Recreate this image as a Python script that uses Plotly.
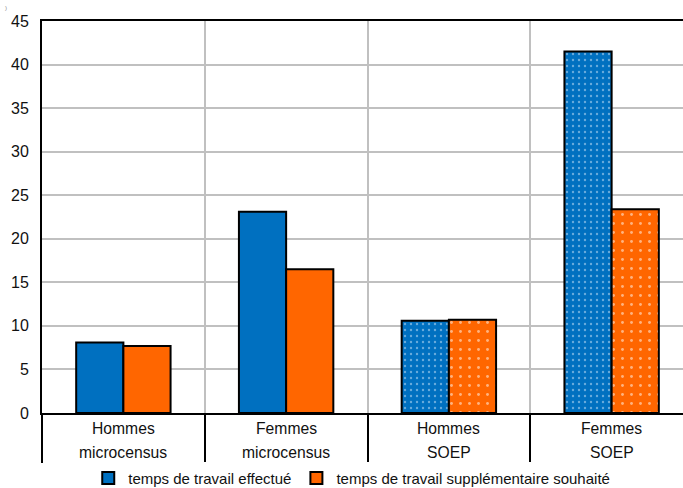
import plotly.graph_objects as go

# Categories (two text lines each) and series values (hours)
cat_line1 = ["Hommes", "Femmes", "Hommes", "Femmes"]
cat_line2 = ["microcensus", "microcensus", "SOEP", "SOEP"]
effectue = [8.1, 23.1, 10.6, 41.5]
souhaite = [7.7, 16.5, 10.7, 23.4]
series_names = ["temps de travail effectué", "temps de travail supplémentaire souhaité"]
y_ticks = [0, 5, 10, 15, 20, 25, 30, 35, 40, 45]

BLUE = "#0070C0"
ORANGE = "#FF6600"
FONT = "Liberation Sans, Arial, sans-serif"

x = list(range(len(cat_line1)))
dotted = ["", "", ".", "."]

fig = go.Figure()
fig.add_trace(go.Bar(
    x=x, y=effectue, name=series_names[0],
    marker=dict(color=BLUE, line=dict(color="black", width=2),
                pattern=dict(shape=dotted, fgcolor="#cfe6f7", size=6, solidity=0.12)),
))
fig.add_trace(go.Bar(
    x=x, y=souhaite, name=series_names[1],
    marker=dict(color=ORANGE, line=dict(color="black", width=2),
                pattern=dict(shape=dotted, fgcolor="white", size=9, solidity=0.08)),
))

# Category labels below the axis, one annotation per line
annotations = []
for i in x:
    annotations.append(dict(x=i, y=0, xref="x", yref="y", text=cat_line1[i], showarrow=False,
                            yanchor="top", yshift=-5, font=dict(family=FONT, size=15.7, color="#111")))
    annotations.append(dict(x=i, y=0, xref="x", yref="y", text=cat_line2[i], showarrow=False,
                            yanchor="top", yshift=-29, font=dict(family=FONT, size=15.7, color="#111")))
# small mark in the top-left corner
annotations.append(dict(x=-0.061, y=1.045, xref="paper", yref="paper", text=")", showarrow=False,
                        xanchor="left", yanchor="top", font=dict(family=FONT, size=6, color="#888")))

fig.update_layout(
    width=683, height=488,
    margin=dict(l=42, r=0, t=21, b=75),
    paper_bgcolor="white", plot_bgcolor="white",
    barmode="group", bargap=0.42, bargroupgap=0,
    font=dict(family=FONT, size=15, color="#111"),
    showlegend=True,
    legend=dict(orientation="h", xref="container", yref="container",
                x=0.515, xanchor="center", y=0.02, yanchor="middle",
                font=dict(family=FONT, size=15, color="#111"),
                itemwidth=30, traceorder="normal"),
    annotations=annotations,
    xaxis=dict(
        range=[-0.5, 3.4385],
        tickvals=[-0.5, 0.5, 1.5, 2.5],
        showticklabels=False,
        showgrid=True, gridcolor="#C0C0C0", gridwidth=1.5,
        ticks="outside", ticklen=48, tickwidth=2, tickcolor="black",
        showline=True, linecolor="black", linewidth=2, mirror=True,
        zeroline=False,
    ),
    yaxis=dict(
        range=[0, 45], tickvals=y_ticks,
        showgrid=True, gridcolor="#C0C0C0", gridwidth=1.5,
        showline=True, linecolor="black", linewidth=2,
        ticks="", ticklabelstandoff=8,
        tickfont=dict(family=FONT, size=16, color="#111"),
        zeroline=False,
    ),
)

fig.write_html("out.html")
